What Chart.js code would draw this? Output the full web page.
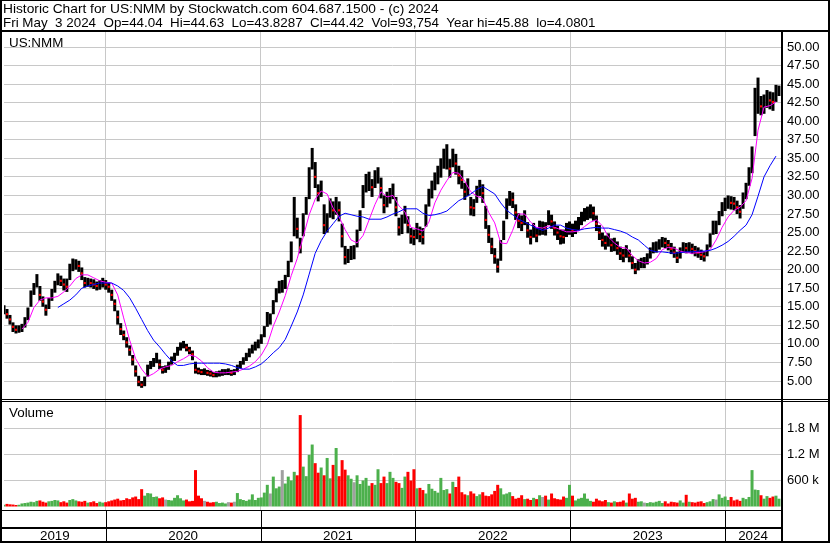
<!DOCTYPE html>
<html>
<head>
<meta charset="utf-8">
<title>Historic Chart for US:NMM</title>
<script src="https://cdn.jsdelivr.net/npm/chart.js@4.4.1/dist/chart.umd.min.js"></script>
<style>
  html, body { margin: 0; padding: 0; background: #fff; }
  canvas { display: block; }
</style>
</head>
<body>
<canvas id="historicChart" width="830" height="543"></canvas>
<script>
// weekly bars, first bar early May 2019
const firstWeek = 2019.343;
const weekStep = 1 / 51.75;
const xMin = 2019.343;
const xMax = 2024.361;

const lows = [
    14.0, 13.4, 12.6, 11.6, 11.4, 11.5, 11.6, 12.2, 13.2, 15.0,
    16.6, 17.6, 15.8, 15.0, 13.8, 14.7, 15.8, 16.9, 17.9, 17.8,
    17.2, 17.0, 18.6, 19.8, 20.0, 19.7, 18.6, 17.6, 17.7, 17.6,
    17.4, 17.2, 17.3, 17.6, 17.3, 16.9, 15.8, 14.4, 12.6, 11.2,
    10.5, 9.5, 8.4, 7.1, 5.6, 4.3, 4.08, 4.3, 5.6, 6.6,
    6.9, 7.4, 6.6, 6.0, 6.1, 6.5, 7.2, 7.7, 8.4, 9.1,
    9.4, 9.0, 8.6, 7.8, 6.0, 5.9, 5.8, 5.8, 5.7, 5.6,
    5.5, 5.5, 5.6, 5.7, 5.8, 5.8, 5.7, 5.8, 6.2, 6.7,
    7.2, 7.7, 8.2, 8.7, 9.1, 9.4, 10.0, 10.9, 12.3, 12.6,
    14.0, 15.6, 16.8, 16.9, 17.4, 19.0, 21.0, 24.5, 24.2, 22.2,
    24.5, 27.4, 29.5, 33.5, 31.0, 29.2, 29.8, 24.8, 25.0, 27.0,
    26.8, 27.4, 26.5, 23.0, 20.7, 20.9, 21.3, 21.4, 23.0, 25.2,
    28.3, 30.4, 30.6, 29.8, 31.0, 31.6, 29.6, 27.6, 28.4, 28.9,
    29.5, 27.2, 24.6, 24.8, 26.2, 24.9, 23.5, 23.3, 24.1, 23.7,
    23.4, 25.8, 28.5, 29.6, 30.7, 31.5, 32.4, 33.6, 33.5, 32.4,
    33.8, 32.8, 31.5, 30.9, 29.4, 29.9, 27.3, 27.2, 29.0, 29.9,
    29.0, 25.5, 23.6, 22.1, 20.8, 19.6, 21.2, 24.0, 26.8, 28.6,
    28.3, 26.7, 25.6, 25.2, 26.0, 24.3, 23.4, 24.3, 23.7, 24.6,
    24.7, 24.6, 26.0, 25.5, 24.6, 24.0, 23.4, 23.5, 24.4, 24.7,
    24.4, 24.8, 25.3, 26.0, 26.5, 26.7, 26.9, 26.6, 25.2, 24.0,
    23.1, 22.7, 23.1, 22.4, 22.5, 22.0, 21.3, 21.0, 21.6, 21.0,
    20.1, 19.4, 19.9, 20.2, 20.2, 20.7, 21.5, 22.2, 22.3, 22.7,
    23.0, 22.9, 22.6, 22.1, 21.6, 20.9, 21.5, 22.3, 22.2, 22.3,
    22.1, 21.8, 21.6, 21.3, 21.1, 21.8, 23.0, 24.7, 24.8, 26.0,
    27.2, 27.9, 28.2, 28.1, 28.0, 27.5, 26.9, 28.2, 29.5, 31.3,
    33.0, 38.0, 41.0, 40.8, 41.0, 41.8, 41.6, 41.4, 42.6, 43.4
];

const highs = [
    15.2, 14.7, 13.9, 12.9, 12.5, 12.5, 12.7, 13.6, 14.9, 17.2,
    18.2, 19.4, 17.8, 16.4, 15.3, 16.2, 17.4, 18.5, 19.5, 19.2,
    18.8, 18.8, 20.8, 21.5, 21.4, 21.2, 20.3, 19.0, 18.9, 18.8,
    18.7, 18.4, 18.6, 18.9, 18.6, 18.3, 17.3, 16.0, 14.5, 12.8,
    11.8, 10.9, 9.8, 8.5, 7.1, 5.7, 5.0, 5.6, 7.2, 7.7,
    8.1, 8.8, 7.9, 7.0, 7.1, 7.6, 8.3, 8.8, 9.6, 10.2,
    10.4, 10.0, 9.6, 9.1, 7.6, 6.8, 6.6, 6.7, 6.5, 6.4,
    6.2, 6.3, 6.4, 6.6, 6.6, 6.7, 6.5, 6.6, 7.2, 7.7,
    8.2, 8.8, 9.4, 9.9, 10.3, 10.6, 11.3, 12.4, 14.3, 14.1,
    15.9, 17.5, 18.5, 18.6, 19.3, 21.2, 23.8, 29.8, 27.0, 24.3,
    27.6, 29.8, 33.8, 36.4, 34.5, 31.5, 32.0, 28.8, 27.6, 29.6,
    29.2, 29.8, 29.2, 26.2, 23.2, 22.8, 23.2, 23.3, 25.4, 28.0,
    31.4, 32.9, 33.2, 32.2, 33.4, 33.8, 32.4, 30.0, 30.5, 31.0,
    31.6, 29.8, 27.0, 27.4, 28.6, 27.2, 25.6, 25.4, 26.3, 25.8,
    25.6, 28.8, 30.9, 32.0, 33.1, 34.0, 35.0, 36.3, 36.9, 34.9,
    36.3, 35.6, 34.0, 33.4, 31.7, 32.3, 29.8, 29.5, 31.3, 32.1,
    31.5, 28.6, 26.0, 24.3, 22.9, 21.5, 24.0, 26.6, 29.6, 30.6,
    30.4, 28.8, 27.6, 27.3, 28.0, 26.4, 25.4, 26.3, 25.6, 26.6,
    26.5, 26.4, 28.0, 27.4, 26.5, 25.9, 25.4, 25.4, 26.3, 26.5,
    26.2, 26.6, 27.1, 27.8, 28.3, 28.5, 28.8, 28.5, 27.3, 26.0,
    25.0, 24.6, 24.9, 24.2, 24.3, 23.8, 23.1, 22.8, 23.3, 22.7,
    21.8, 20.9, 21.4, 21.6, 21.7, 22.2, 23.0, 23.7, 23.8, 24.1,
    24.4, 24.3, 24.0, 23.6, 23.1, 22.4, 23.0, 23.7, 23.6, 23.7,
    23.5, 23.2, 23.0, 22.7, 22.5, 23.4, 24.9, 26.6, 26.6, 27.9,
    29.1, 29.7, 30.0, 29.9, 29.8, 29.3, 28.7, 30.4, 31.7, 33.8,
    36.6, 44.5, 45.88, 43.4, 43.6, 44.2, 44.0, 43.9, 44.9, 44.8
];

const closes = [
    14.6, 14.0, 13.3, 12.3, 11.9, 12.0, 12.1, 12.8, 14.0, 16.3,
    17.5, 18.6, 16.6, 15.7, 14.6, 15.4, 16.6, 17.7, 18.7, 18.5,
    18.0, 17.7, 19.5, 20.7, 20.8, 20.5, 19.5, 18.2, 18.3, 18.2,
    18.0, 17.8, 17.9, 18.2, 18.0, 17.7, 16.6, 15.4, 13.6, 12.0,
    11.2, 10.2, 9.2, 7.9, 6.3, 4.9, 4.5, 4.8, 6.4, 7.1,
    7.4, 8.2, 7.2, 6.5, 6.5, 7.0, 7.8, 8.2, 9.0, 9.7,
    9.9, 9.5, 9.1, 8.6, 6.5, 6.3, 6.2, 6.2, 6.1, 6.0,
    5.8, 5.9, 6.0, 6.1, 6.2, 6.2, 6.1, 6.1, 6.7, 7.2,
    7.7, 8.2, 8.8, 9.3, 9.7, 10.0, 10.6, 11.6, 13.4, 13.4,
    15.0, 16.6, 17.7, 17.7, 18.3, 20.0, 22.2, 27.5, 25.5, 23.0,
    26.0, 28.8, 32.5, 35.5, 32.5, 30.3, 31.0, 26.0, 26.3, 28.5,
    28.0, 28.6, 28.0, 24.5, 21.7, 21.8, 22.2, 22.2, 24.3, 26.8,
    30.0, 31.6, 31.7, 31.1, 32.3, 33.0, 31.0, 28.7, 29.5, 30.0,
    30.7, 28.4, 25.7, 26.0, 27.5, 26.0, 24.5, 24.4, 25.2, 24.8,
    24.4, 27.6, 29.8, 30.8, 32.0, 32.8, 33.6, 35.0, 35.3, 33.6,
    35.2, 34.3, 32.7, 32.1, 30.5, 31.1, 28.4, 28.3, 30.2, 31.0,
    30.3, 26.7, 24.7, 23.1, 21.8, 20.4, 22.8, 25.2, 28.3, 29.7,
    29.4, 27.7, 26.6, 26.3, 27.0, 25.3, 24.4, 25.3, 24.6, 25.6,
    25.6, 25.5, 27.0, 26.5, 25.6, 25.0, 24.5, 24.4, 25.4, 25.6,
    25.3, 25.7, 26.2, 26.9, 27.4, 27.6, 27.8, 27.6, 26.2, 25.0,
    24.0, 23.6, 24.0, 23.3, 23.4, 22.9, 22.2, 21.9, 22.5, 21.9,
    20.9, 20.0, 20.6, 20.9, 20.9, 21.4, 22.2, 22.9, 23.0, 23.4,
    23.7, 23.6, 23.3, 22.8, 22.3, 21.6, 22.2, 23.0, 22.9, 23.0,
    22.8, 22.5, 22.3, 22.0, 21.8, 22.6, 24.0, 25.7, 25.7, 27.0,
    28.2, 28.8, 29.1, 29.0, 28.9, 28.4, 27.8, 29.4, 30.6, 32.6,
    34.4, 41.5, 44.0, 42.0, 42.3, 43.0, 42.8, 42.6, 43.8, 44.42
];

// thousands of shares
const volumes = [
    40, 60, 50, 45, 35, 40, 70, 80, 90, 110,
    100, 130, 140, 110, 90, 120, 130, 150, 140, 100,
    120, 90, 150, 170, 140, 120, 110, 130, 90, 100,
    120, 80, 110, 90, 100, 120, 140, 160, 180, 140,
    150, 190, 170, 210, 230, 170, 400, 250, 310, 300,
    220, 230, 190, 210, 160, 150, 140, 200, 260, 190,
    140, 160, 120, 130, 840, 250, 190, 130, 110, 90,
    100, 110, 80, 90, 70, 100, 90, 110, 310, 170,
    150, 130, 160, 280, 150, 200, 210, 320, 500, 300,
    690, 420, 460, 840, 530, 690, 600, 800, 720, 2110,
    920, 700, 1190, 1430, 1000, 780, 900, 720, 1120, 650,
    960, 1350, 700, 1070, 850, 720, 640, 560, 720, 520,
    600, 660, 480, 540, 500, 860, 540, 690, 540, 800,
    660, 570, 540, 430, 690, 800, 600, 860, 420, 430,
    380, 300, 520, 410, 360, 320, 660, 380, 400, 300,
    570, 450, 690, 330, 280, 260, 350, 300, 240, 280,
    330, 250, 240, 280, 360, 500, 420, 280, 300, 330,
    240, 180, 200, 260, 170, 180, 150, 200, 170, 260,
    220, 250, 160, 300, 190, 170, 160, 230, 200, 500,
    250, 140, 180, 200, 300, 180, 130, 110, 180, 140,
    120, 150, 100, 90, 120, 100, 110, 140, 90, 300,
    180, 200, 110, 120, 90, 80, 100, 90, 110, 130,
    80, 120, 70, 110, 100, 90, 140, 90, 270, 110,
    100, 90, 110, 120, 80, 100, 120, 170, 160, 280,
    200, 230, 150, 220, 140, 160, 130, 200, 170, 220,
    840, 390, 380, 260, 180, 240, 200, 230, 250, 180
];

// moving averages, one reading every second week
const fastStart = 6;
const fastMA = [
    12.0, 12.9, 14.9, 15.9, 16.2, 16.2, 16.4, 17.0, 17.8, 18.8,
    19.3, 19.3, 18.9, 18.5, 18.3, 18.2, 16.6, 13.5, 10.5, 8.0,
    6.6, 5.6, 6.0, 6.6, 6.9, 7.1, 7.6, 8.0, 8.5, 8.3,
    7.7, 6.8, 6.2, 6.1, 6.1, 6.2, 6.3, 6.6, 7.0, 7.6,
    8.5, 9.9, 12.4, 14.3, 16.5, 19.2, 21.5, 24.4, 27.4, 29.5,
    30.6, 30.2, 28.3, 27.1, 25.4, 24.0, 23.6, 24.6, 26.7, 28.8,
    30.5, 29.8, 30.0, 28.6, 27.8, 25.7, 25.5, 25.2, 26.4, 29.0,
    30.7, 32.0, 33.1, 33.0, 31.9, 30.5, 29.9, 29.6, 27.7, 26.3,
    23.6, 23.5, 25.3, 27.5, 27.5, 26.4, 25.7, 25.6, 25.9, 25.7,
    25.4, 25.1, 25.1, 25.2, 25.8, 26.4, 26.7, 25.9, 24.4, 23.6,
    23.0, 22.9, 21.9, 21.2, 20.9, 21.0, 21.5, 22.7, 23.0, 22.9,
    22.5, 22.3, 22.2, 22.3, 22.4, 22.7, 24.0, 25.7, 27.1, 28.0,
    28.4, 29.3, 32.3, 38.8, 41.9, 42.1, 42.6
];
const slowStart = 18;
const slowMA = [
    14.9, 15.4, 15.9, 16.6, 17.5, 17.8, 18.0, 18.2, 18.2, 18.2,
    17.8, 17.2, 16.2, 14.8, 13.3, 11.8, 10.5, 9.6, 8.6, 7.7,
    7.1, 7.1, 7.3, 7.4, 7.4, 7.4, 7.4, 7.4, 7.3, 7.1,
    6.8, 6.6, 6.6, 6.9, 7.3, 8.0, 8.8, 9.5, 10.6, 12.4,
    14.3, 16.6, 19.4, 22.2, 23.9, 25.2, 26.2, 27.2, 27.6, 27.4,
    27.2, 27.1, 26.8, 26.8, 26.8, 27.1, 27.5, 27.8, 28.2, 28.2,
    28.2, 27.6, 27.3, 27.4, 27.6, 27.9, 28.6, 29.3, 29.7, 30.2,
    30.8, 31.2, 30.7, 30.2, 29.0, 28.0, 27.4, 26.8, 26.4, 26.0,
    25.6, 25.3, 25.6, 26.0, 26.0, 25.6, 25.4, 25.3, 25.5, 25.6,
    25.7, 25.6, 25.6, 25.4, 25.2, 24.9, 24.4, 24.0, 23.3, 22.6,
    22.4, 22.4, 22.3, 22.2, 22.3, 22.4, 22.4, 22.5, 22.5, 22.6,
    22.9, 23.3, 23.8, 24.5, 25.3, 26.0, 27.4, 29.9, 32.5, 34.0,
    35.3
];

const years = [2019, 2020, 2021, 2022, 2023, 2024];
const priceTicks = [5, 7.5, 10, 12.5, 15, 17.5, 20, 22.5, 25, 27.5, 30, 32.5, 35, 37.5, 40, 42.5, 45, 47.5, 50];
const volumeTicks = [600000, 1200000, 1800000];

const headerLines = [
    'Historic Chart for US:NMM by Stockwatch.com 604.687.1500 - (c) 2024',
    'Fri May  3 2024  Op=44.04  Hi=44.63  Lo=43.8287  Cl=44.42  Vol=93,754  Year hi=45.88  lo=4.0801'
];

const FAMILY = "'Liberation Sans', Arial, sans-serif";
const FONT = '13.4px ' + FAMILY;
const GRID = '#c8c8c8';
const UP = '#4cb04c';
const DOWN = '#ff0000';

Chart.defaults.font.family = FAMILY;
Chart.defaults.font.size = 13;
Chart.defaults.color = '#000';

const weekX = i => firstWeek + i * weekStep;

const rangeData = lows.map((lo, i) => ({ x: weekX(i), y: [lo, highs[i]] }));
const volumeData = volumes.map((v, i) => ({ x: weekX(i), y: v * 1000 }));
const volumeColors = closes.map((c, i) => {
    if (i === 0 || c > closes[i - 1]) return UP;
    return c < closes[i - 1] ? DOWN : '#a0a0a0';
});
const downCloses = [];
closes.forEach((c, i) => {
    if (i > 0 && c < closes[i - 1]) downCloses.push({ x: weekX(i), y: c });
});
const fastData = fastMA.map((v, k) => ({ x: weekX(fastStart + 2 * k), y: v }));
const slowData = slowMA.map((v, k) => ({ x: weekX(slowStart + 2 * k), y: v }));

// frame, header and labels the way Stockwatch draws them
const framePlugin = {
    id: 'frame',
    beforeDraw(chart) {
        const { ctx, width, height } = chart;
        ctx.save();
        ctx.fillStyle = '#fff';
        ctx.fillRect(0, 0, width, height);
        ctx.restore();
    },
    afterDraw(chart) {
        const { ctx, width, height, chartArea: area } = chart;
        const x = chart.scales.x;
        ctx.save();
        ctx.fillStyle = '#000';
        ctx.textAlign = 'left';
        ctx.textBaseline = 'alphabetic';
        ctx.font = FONT;
        // first header line is a touch wider in the original
        ctx.save();
        ctx.translate(3, 13);
        ctx.scale(1.027, 1);
        ctx.fillText(headerLines[0], 0, 0);
        ctx.restore();
        ctx.fillText(headerLines[1], 3, 27);
        ctx.fillText('US:NMM', 9, 47);
        ctx.fillText('Volume', 9, 417);

        // outer box and panel separators
        ctx.fillRect(0, 0, width, 1);
        ctx.fillRect(0, 0, 2, height);
        ctx.fillRect(width - 2, 0, 2, height);
        ctx.fillRect(0, height - 2, width, 2);
        ctx.fillRect(0, 30, width, 2);
        ctx.fillRect(0, 399, width, 1);
        ctx.fillRect(0, 401, width, 1);
        ctx.fillRect(area.right, 32, 2, height - 32);
        ctx.fillRect(0, area.bottom, area.right, 1);
        ctx.fillRect(0, 527, area.right, 2);

        // year strip
        ctx.textAlign = 'center';
        years.forEach(y => {
            const left = Math.max(x.min, y);
            const right = Math.min(x.max, y + 1);
            const p0 = x.getPixelForValue(left);
            const p1 = x.getPixelForValue(right);
            if (y > x.min) ctx.fillRect(Math.round(p0), area.bottom, 1, height - area.bottom);
            ctx.fillText(String(y), (p0 + p1) / 2, 540);
        });
        ctx.restore();
    }
};

const ctx = document.getElementById('historicChart').getContext('2d');
new Chart(ctx, {
    type: 'bar',
    data: {
        datasets: [
            {
                type: 'line', label: 'MA slow', data: slowData, yAxisID: 'y',
                borderColor: '#0000ff', borderWidth: 1, pointRadius: 0, tension: 0, order: 1
            },
            {
                type: 'line', label: 'MA fast', data: fastData, yAxisID: 'y',
                borderColor: '#ff00ff', borderWidth: 1, pointRadius: 0, tension: 0, order: 2
            },
            {
                type: 'line', label: 'Down close', data: downCloses, yAxisID: 'y', showLine: false,
                pointStyle: 'rect', pointRadius: 1.5, pointBackgroundColor: DOWN, pointBorderWidth: 0, order: 3
            },
            {
                type: 'bar', label: 'US:NMM', data: rangeData, yAxisID: 'y',
                backgroundColor: '#000', barThickness: 3, grouped: false, inflateAmount: 0, order: 4
            },
            {
                type: 'bar', label: 'Volume', data: volumeData, yAxisID: 'vol',
                backgroundColor: volumeColors, barThickness: 3, grouped: false, inflateAmount: 0, order: 5
            }
        ]
    },
    options: {
        responsive: false,
        animation: false,
        devicePixelRatio: 1,
        layout: { padding: { top: 32, left: 2, right: 0, bottom: 0 } },
        plugins: {
            legend: { display: false },
            tooltip: { enabled: false },
            title: { display: false }
        },
        scales: {
            x: {
                type: 'linear',
                offset: false,
                min: xMin,
                max: xMax,
                afterBuildTicks: s => { s.ticks = years.slice(1).map(v => ({ value: v })); },
                afterFit: s => { s.height = 33; },
                ticks: { display: false },
                grid: { color: GRID, drawTicks: false, offset: false },
                border: { display: false }
            },
            y: {
                position: 'right',
                stack: 'panels',
                stackWeight: 367,
                min: 2.575,
                max: 52.021,
                afterBuildTicks: s => { s.ticks = priceTicks.map(v => ({ value: v })); },
                afterFit: s => { s.width = 49; },
                ticks: { autoSkip: false, padding: 6, callback: v => Number(v).toFixed(2), font: { size: 13 } },
                grid: { color: GRID, drawTicks: false },
                border: { display: false }
            },
            vol: {
                position: 'right',
                stack: 'panels',
                stackWeight: 111,
                min: -80769,
                max: 2480769,
                afterBuildTicks: s => { s.ticks = volumeTicks.map(v => ({ value: v })); },
                afterFit: s => { s.width = 49; },
                ticks: {
                    autoSkip: false, padding: 6, font: { size: 13 },
                    callback: v => v >= 1000000 ? (v / 1000000).toFixed(1) + ' M' : (v / 1000) + ' k'
                },
                grid: { color: GRID, drawTicks: false },
                border: { display: false }
            }
        }
    },
    plugins: [framePlugin]
});
</script>
</body>
</html>
